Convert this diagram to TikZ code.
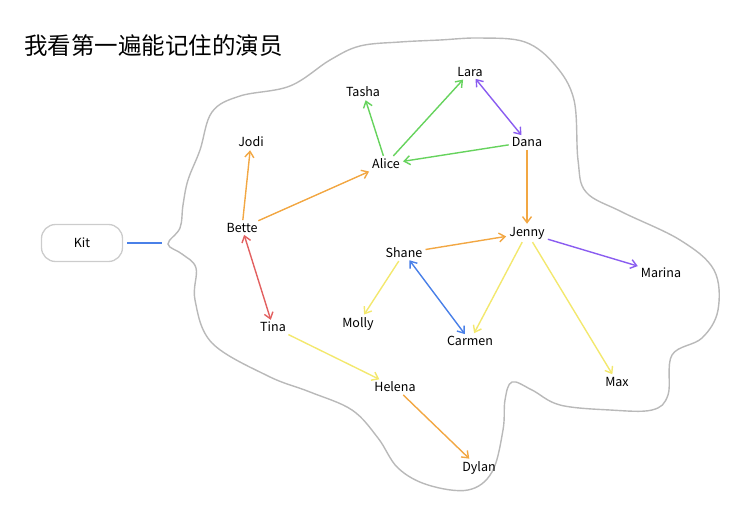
\documentclass[tikz,border=0pt]{standalone}
\usepackage{fontspec}
\setmainfont{Noto Sans CJK SC}
\usetikzlibrary{arrows.meta}
\definecolor{cor}{HTML}{F2A743}
\definecolor{cgr}{HTML}{66D35D}
\definecolor{cpu}{HTML}{8A5CF0}
\definecolor{cre}{HTML}{E26060}
\definecolor{cye}{HTML}{F3E86E}
\definecolor{cbl}{HTML}{4A80E8}
\begin{document}
\begin{tikzpicture}[x=1pt,y=-1pt,
  lbl/.style={font=\fontsize{12.5}{14}\selectfont, inner sep=2pt},
  ar/.style={-{Straight Barb[length=6pt,width=9pt]}, line width=1.4pt, shorten >=1pt, shorten <=1pt},
  dar/.style={{Straight Barb[length=6pt,width=9pt]}-{Straight Barb[length=6pt,width=9pt]}, line width=1.4pt}]
\useasboundingbox (0,0) rectangle (749,524);
\node[font=\fontsize{23.5}{26}\selectfont, anchor=west, inner sep=0pt] (title) at (24,46) {我看第一遍能记住的演员};
\draw[gray!55, line width=1.4pt] plot[smooth cycle, tension=0.6] coordinates {
(168,244)(180,228)(183,205)(188,180)(200,150)(212,112)(240,96)(290,86)(330,60)(360,46)(400,42)(440,40)(480,38)(525,42)(555,65)(574,100)(578,160)(586,192)(622,212)(680,240)(714,270)(718,310)(702,338)(672,355)(668,395)(652,410)(610,410)(560,405)(532,390)(512,382)(505,400)(503,430)(492,472)(468,490)(428,485)(398,468)(378,438)(352,410)(310,392)(268,376)(212,343)(195,300)(196,268)(182,254)};
\node[draw=gray!40, line width=1.3pt, rounded corners=14pt, minimum width=81pt, minimum height=37pt, font=\fontsize{12.5}{14}\selectfont] (kit) at (82,243) {Kit};
\coordinate (kend) at (162,243);
\node[lbl] (jodi) at (251,142) {Jodi};
\node[lbl] (tasha) at (363,92) {Tasha};
\node[lbl] (lara) at (470,72) {Lara};
\node[lbl] (dana) at (527,142) {Dana};
\node[lbl] (alice) at (386,164) {Alice};
\node[lbl] (bette) at (242,228) {Bette};
\node[lbl] (jenny) at (527,233) {Jenny};
\node[lbl] (shane) at (404,253) {Shane};
\node[lbl] (marina) at (661,273) {Marina};
\node[lbl] (molly) at (358,324) {Molly};
\node[lbl] (carmen) at (470,341) {Carmen};
\node[lbl] (tina) at (273,327) {Tina};
\node[lbl] (helena) at (395,387) {Helena};
\node[lbl] (max) at (617,382) {Max};
\node[lbl] (dylan) at (479,468) {Dylan};
\draw[cbl, line width=1.4pt, shorten <=4pt] (kit) -- (kend);
\draw[ar,cor] (bette) -- (jodi);
\draw[ar,cor] (bette) -- (alice);
\draw[dar,cre] (bette) -- (tina);
\draw[ar,cgr] (alice) -- (tasha);
\draw[ar,cgr] (alice) -- (lara);
\draw[ar,cgr] (dana) -- (alice);
\draw[dar,cpu] (lara) -- (dana);
\draw[ar,cor] (dana) -- (jenny);
\draw[ar,cor] (shane) -- (jenny);
\draw[ar,cpu] (jenny) -- (marina);
\draw[ar,cye] (jenny) -- (carmen);
\draw[ar,cye] (jenny) -- (max);
\draw[ar,cye] (shane) -- (molly);
\draw[dar,cbl] (shane) -- (carmen);
\draw[ar,cye] (tina) -- (helena);
\draw[ar,cor] (helena) -- (dylan);
\end{tikzpicture}
\end{document}
